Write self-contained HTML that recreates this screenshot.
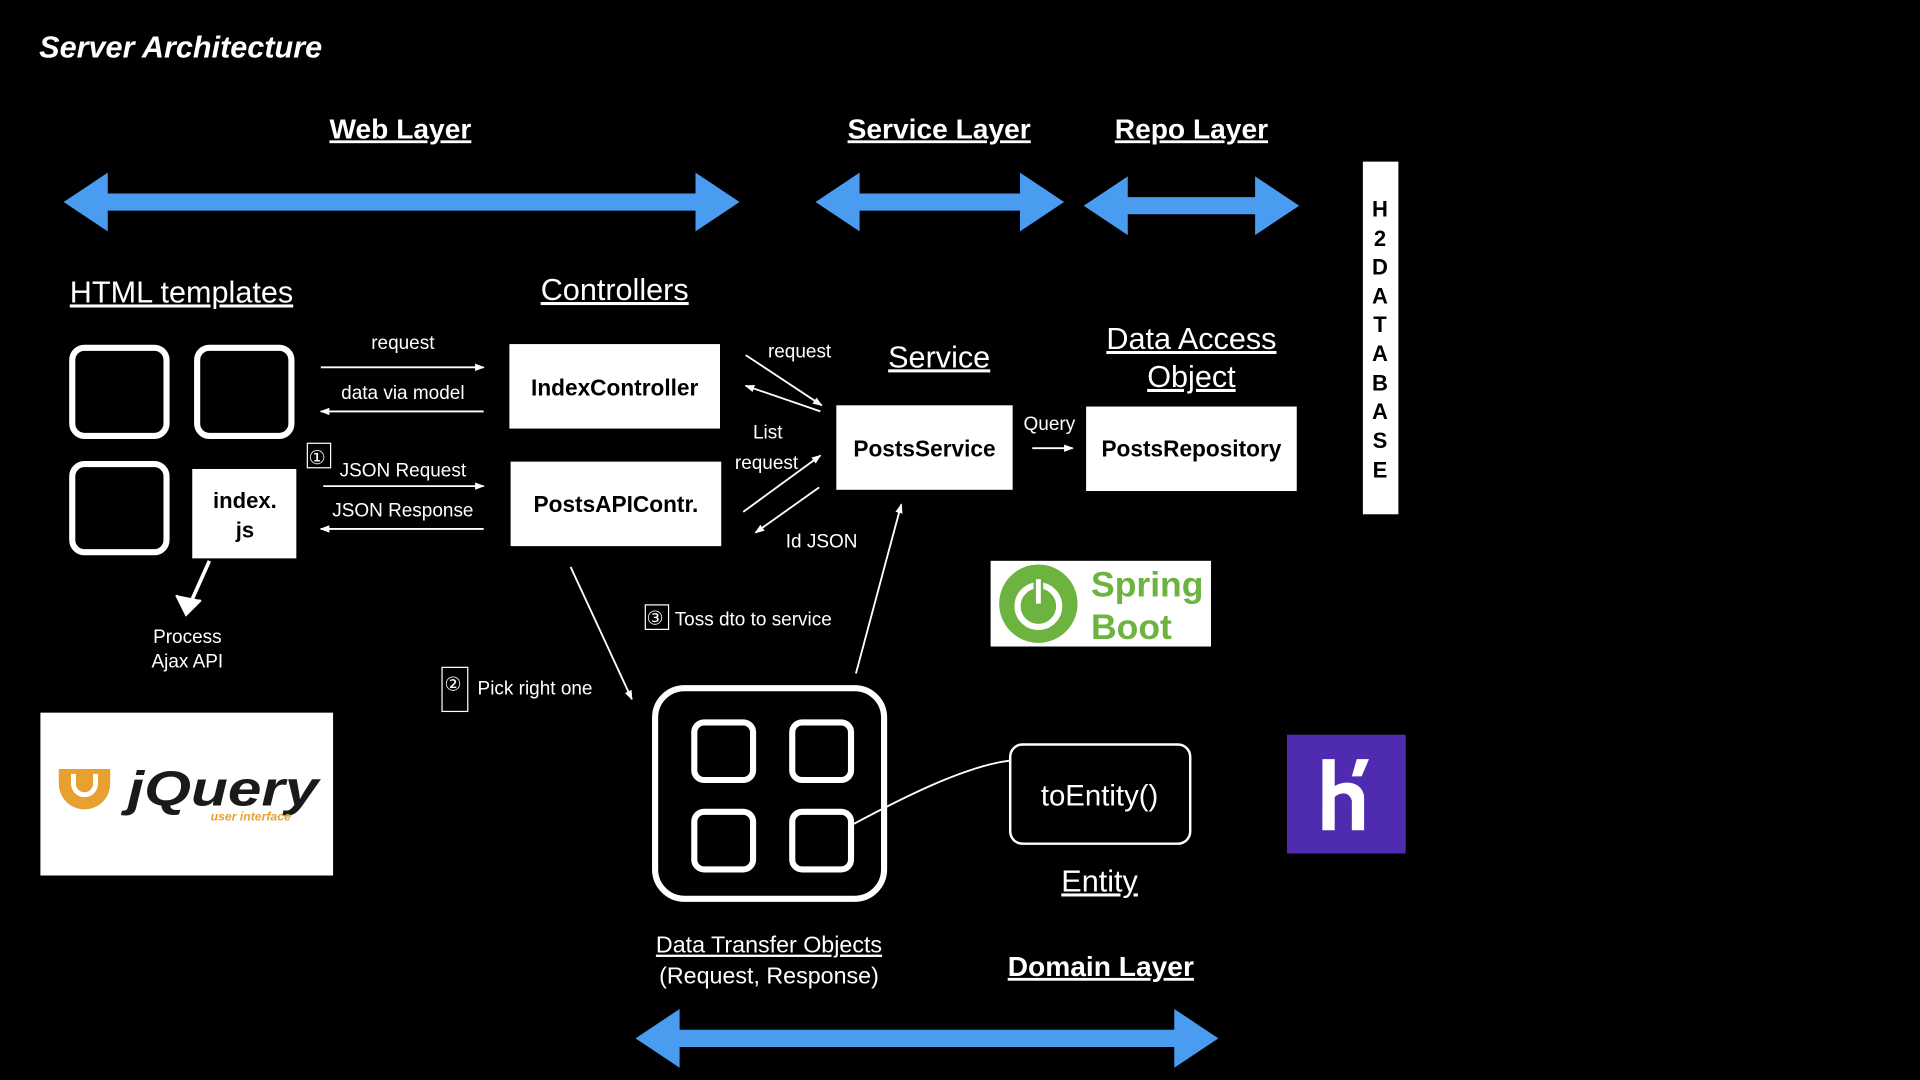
<!DOCTYPE html>
<html><head><meta charset="utf-8"><style>
html,body{margin:0;padding:0;background:#000;width:1920px;height:1080px;overflow:hidden}
svg{display:block}
text{font-family:"Liberation Sans",sans-serif;fill:#fff}
text.u{text-decoration:underline}
text.k{fill:#000}
</style></head><body>
<svg width="1920" height="1080" viewBox="0 0 1568 882" xmlns="http://www.w3.org/2000/svg">
<defs>
<marker id="ah" markerWidth="8" markerHeight="8" refX="7" refY="4" orient="auto" markerUnits="userSpaceOnUse"><path d="M0,1 L8,4 L0,7 z" fill="#fff"/></marker>
</defs>
<rect width="1568" height="882" fill="#000"/>
<text x="32" y="47" font-size="25" font-weight="bold" font-style="italic">Server Architecture</text>

<g font-size="23" font-weight="bold" text-anchor="middle">
<text class="u" x="327" y="113">Web Layer</text>
<text class="u" x="767" y="113">Service Layer</text>
<text class="u" x="973" y="113">Repo Layer</text>
<text class="u" x="899" y="797">Domain Layer</text>
</g>

<g fill="#4a9cf0">
<path d="M52,165 L88,141 L88,158 L568,158 L568,141 L604,165 L568,189 L568,172 L88,172 L88,189 Z"/>
<path d="M666,165 L702,141 L702,158 L833,158 L833,141 L869,165 L833,189 L833,172 L702,172 L702,189 Z"/>
<path d="M885,168 L921,144 L921,161 L1025,161 L1025,144 L1061,168 L1025,192 L1025,175 L921,175 L921,192 Z"/>
<path d="M519,848 L555,824 L555,841 L959,841 L959,824 L995,848 L959,872 L959,855 L555,855 L555,872 Z"/>
</g>

<rect x="1113" y="132" width="29" height="288" fill="#fff"/>
<g font-size="18" font-weight="bold" text-anchor="middle">
<text class="k" x="1127" y="177">H</text><text class="k" x="1127" y="201">2</text><text class="k" x="1127" y="224">D</text><text class="k" x="1127" y="248">A</text><text class="k" x="1127" y="271">T</text><text class="k" x="1127" y="295">A</text><text class="k" x="1127" y="319">B</text><text class="k" x="1127" y="342">A</text><text class="k" x="1127" y="366">S</text><text class="k" x="1127" y="390">E</text>
</g>

<g font-size="25">
<text class="u" x="57" y="247">HTML templates</text>
<text class="u" x="502" y="245" text-anchor="middle">Controllers</text>
<text class="u" x="767" y="300" text-anchor="middle">Service</text>
<text class="u" x="973" y="285" text-anchor="middle">Data Access</text>
<text class="u" x="973" y="316" text-anchor="middle">Object</text>
<text class="u" x="898" y="728" text-anchor="middle">Entity</text>
</g>

<g fill="none" stroke="#fff" stroke-width="5">
<rect x="59" y="284" width="77" height="72" rx="10"/>
<rect x="161" y="284" width="77" height="72" rx="10"/>
<rect x="59" y="379" width="77" height="72" rx="10"/>
<rect x="535" y="562" width="187" height="172" rx="24"/>
<rect x="567" y="590" width="48" height="47" rx="8"/>
<rect x="647" y="590" width="48" height="47" rx="8"/>
<rect x="567" y="663" width="48" height="47" rx="8"/>
<rect x="647" y="663" width="48" height="47" rx="8"/>
</g>

<rect x="157" y="383" width="85" height="73" fill="#fff"/>
<text class="k" x="200" y="415" font-size="18" font-weight="bold" text-anchor="middle">index.</text>
<text class="k" x="200" y="439" font-size="18" font-weight="bold" text-anchor="middle">js</text>

<rect x="416" y="281" width="172" height="69" fill="#fff"/>
<rect x="417" y="377" width="172" height="69" fill="#fff"/>
<rect x="683" y="331" width="144" height="69" fill="#fff"/>
<rect x="887" y="332" width="172" height="69" fill="#fff"/>
<g font-size="18.5" font-weight="bold" text-anchor="middle">
<text class="k" x="502" y="323">IndexController</text>
<text class="k" x="503" y="418">PostsAPIContr.</text>
<text class="k" x="755" y="373">PostsService</text>
<text class="k" x="973" y="373">PostsRepository</text>
</g>

<g stroke="#fff" stroke-width="1.5" fill="none" marker-end="url(#ah)">
<line x1="262" y1="300" x2="395" y2="300"/>
<line x1="395" y1="336" x2="262" y2="336"/>
<line x1="264" y1="397" x2="395" y2="397"/>
<line x1="395" y1="432" x2="262" y2="432"/>
<line x1="609" y1="290" x2="671" y2="331"/>
<line x1="670" y1="336" x2="609" y2="315"/>
<line x1="607" y1="418" x2="670" y2="372"/>
<line x1="669" y1="398" x2="617" y2="435"/>
<line x1="843" y1="366" x2="876" y2="366"/>
<line x1="466" y1="463" x2="516" y2="571"/>
<line x1="699" y1="550" x2="736" y2="412"/>
</g>
<path d="M171,458 L154,496" stroke="#fff" stroke-width="3"/>
<path d="M144,486 L152,502 L164,490" fill="#fff" stroke="#fff" stroke-width="2"/>

<g font-size="15.5" text-anchor="middle">
<text x="329" y="285">request</text>
<text x="329" y="326">data via model</text>
<text x="329" y="389">JSON Request</text>
<text x="329" y="422">JSON Response</text>
<text x="653" y="292">request</text>
<text x="627" y="358">List</text>
<text x="626" y="383">request</text>
<text x="671" y="447">Id JSON</text>
<text x="857" y="351">Query</text>
<text x="153" y="525">Process</text>
<text x="153" y="545">Ajax API</text>
</g>
<g font-size="15.5">
<rect x="251" y="362" width="19" height="20" fill="none" stroke="#fff" stroke-width="1"/>
<text x="252" y="379">①</text>
<rect x="361" y="545" width="21" height="36" fill="none" stroke="#fff" stroke-width="1"/>
<text x="363" y="564">②</text>
<text x="390" y="567">Pick right one</text>
<rect x="527" y="494" width="19" height="20" fill="none" stroke="#fff" stroke-width="1"/>
<text x="528" y="510">③</text>
<text x="551" y="511">Toss dto to service</text>
</g>

<rect x="809" y="458" width="180" height="70" fill="#fff"/>
<circle cx="848" cy="493" r="32" fill="#6db33f"/>
<circle cx="848" cy="495" r="17" fill="none" stroke="#fff" stroke-width="5"/>
<rect x="845" y="472" width="6" height="22" fill="#fff" stroke="#6db33f" stroke-width="2"/>
<text x="891" y="487" font-size="29" font-weight="bold" style="fill:#6db33f">Spring</text>
<text x="891" y="522" font-size="29" font-weight="bold" style="fill:#6db33f">Boot</text>

<rect x="33" y="582" width="239" height="133" fill="#fff"/>
<path d="M48,628 h42 v12 a21,21 0 0 1 -42,0 z" fill="#e8a030"/>
<path d="M60,632 v8 a9,9 0 0 0 18,0 v-8" fill="none" stroke="#fff" stroke-width="4"/>
<text x="104" y="658" font-size="40" font-weight="bold" font-style="italic" textLength="156" lengthAdjust="spacingAndGlyphs" style="fill:#1a1a1a">jQuery</text>
<text x="172" y="670" font-size="10" font-weight="bold" font-style="italic" style="fill:#e8a030">user interface</text>

<path d="M697,673 C740,650 790,625 826,621" fill="none" stroke="#fff" stroke-width="1.5"/>
<rect x="825" y="608" width="147" height="81" rx="10" fill="#000" stroke="#fff" stroke-width="2"/>
<text x="898" y="658" font-size="24" text-anchor="middle">toEntity()</text>

<text class="u" x="628" y="778" font-size="19" text-anchor="middle">Data Transfer Objects</text>
<text x="628" y="803" font-size="19" text-anchor="middle">(Request, Response)</text>

<rect x="1051" y="600" width="97" height="97" fill="#4f2bb0"/>
<path d="M1080,620 h10 v22 c8,-5 22,-4 24,8 v28 h-10 v-24 c-2,-8 -10,-7 -14,-3 v27 h-10 z" fill="#fff"/>
<path d="M1108,620 h10 l-6,14 h-8 z" fill="#fff"/>
<path d="M1080,660 l10,9 l-10,9 z" fill="#fff"/>
</svg>
</body></html>
